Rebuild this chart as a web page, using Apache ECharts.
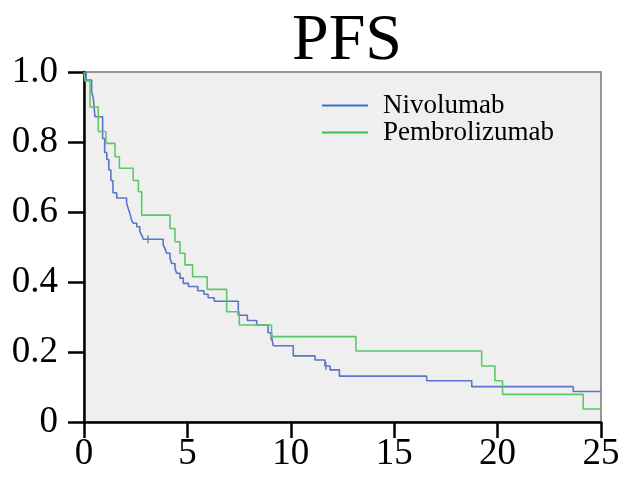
<!DOCTYPE html>
<html>
<head>
<meta charset="utf-8">
<script src="https://cdn.jsdelivr.net/npm/echarts@6/dist/echarts.min.js"></script>
<style>
  html, body { margin: 0; padding: 0; background: #fff; }
  #chart { width: 630px; height: 477px; }
</style>
</head>
<body>
<div id="chart"></div>
<script>
// Kaplan-Meier steps: [time, survival after that time]
let nivoTimes = [0, 0.1, 0.37, 0.45, 0.53, 0.9, 1.0, 1.1, 1.2, 1.3, 1.4, 1.58, 2.06, 2.14, 2.22, 2.3, 2.38, 2.55, 2.7, 2.79, 2.87,
  3.83, 3.91, 4.0, 4.16, 4.24, 4.4, 4.48, 4.64, 4.8, 5.05, 5.5, 5.8, 6.0, 6.3, 7.46, 7.9, 8.35, 8.9, 9.07, 9.15,
  10.12, 11.17, 11.65, 11.9, 12.35, 16.57, 18.75, 23.66, 25]
let nivoSurv = [1.0, 0.977, 0.944, 0.925, 0.872, 0.81, 0.77, 0.75, 0.72, 0.69, 0.655, 0.64, 0.625, 0.61, 0.596, 0.577, 0.568, 0.558, 0.544, 0.534, 0.522,
  0.506, 0.496, 0.482, 0.468, 0.453, 0.439, 0.425, 0.411, 0.396, 0.387, 0.375, 0.365, 0.355, 0.345, 0.305, 0.29, 0.277, 0.255, 0.244, 0.218,
  0.189, 0.177, 0.16, 0.149, 0.131, 0.118, 0.101, 0.087, 0.087]
let pembroTimes = [0, 0.05, 0.29, 0.69, 1.06, 1.5, 1.71, 2.38, 2.63, 2.79, 4.16, 4.4, 4.64, 4.88, 5.25, 5.96, 6.9, 7.51, 9.07,
  13.15, 19.23, 19.87, 20.24, 24.14, 25]
let pembroSurv = [1.0, 0.974, 0.90, 0.83, 0.796, 0.758, 0.725, 0.69, 0.658, 0.591, 0.553, 0.515, 0.482, 0.449, 0.415, 0.379, 0.315, 0.277, 0.244,
  0.203, 0.16, 0.118, 0.079, 0.037, 0.037]
// censor marks
let censorTimes = [3.1, 9.05, 11.7]
let censorSurv = [0.522, 0.244, 0.16]

let xTicks = ['0', '5', '10', '15', '20', '25']
let yTicks = ['0', '0.2', '0.4', '0.6', '0.8', '1.0']

let names = ['Nivolumab', 'Pembrolizumab']
let colors = ['#5b74c9', '#5cc866']
let legendColors = ['#3a6fd0', '#3cbf55']
let serif = 'Liberation Serif'

function zip(a, b) {
  return a.map(function (t, i) { return [t, b[i]] })
}

let chart = echarts.init(document.getElementById('chart'))
let option = {
  animation: false,
  title: {
    text: 'PFS',
    left: 342,
    textAlign: 'center',
    top: 4,
    textStyle: { fontFamily: serif, fontSize: 66, fontWeight: 'normal', color: '#000' }
  },
  legend: {
    data: [
      { name: names[0], itemStyle: { color: legendColors[0] } },
      { name: names[1], itemStyle: { color: legendColors[1] } }
    ],
    orient: 'vertical',
    left: 317,
    top: 87,
    itemWidth: 46,
    itemHeight: 2,
    itemGap: 0,
    icon: 'rect',
    textStyle: { fontFamily: serif, fontSize: 27, color: '#000', padding: [0, 0, 0, 10] }
  },
  grid: {
    left: 84, right: 29, top: 72, bottom: 55,
    show: true,
    backgroundColor: '#efefef',
    borderColor: '#777',
    borderWidth: 1.5
  },
  xAxis: {
    type: 'value',
    min: 0, max: 25, interval: 5,
    axisLine: { lineStyle: { color: '#000', width: 2.5 } },
    axisTick: { show: true, length: 16, lineStyle: { color: '#000', width: 2.5 } },
    axisLabel: {
      margin: 14, fontFamily: serif, fontSize: 37, color: '#000',
      formatter: function (v) { return xTicks[v / 5] }
    },
    splitLine: { show: false }
  },
  yAxis: {
    type: 'value',
    min: 0, max: 1, interval: 0.2,
    axisLine: { show: true, lineStyle: { color: '#000', width: 2.5 } },
    axisTick: { show: true, length: 16, lineStyle: { color: '#000', width: 2.5 } },
    axisLabel: {
      margin: 26, fontFamily: serif, fontSize: 37, color: '#000',
      formatter: function (v) { return yTicks[Math.round(v * 5)] }
    },
    splitLine: { show: false }
  },
  series: [
    {
      name: names[0], type: 'line', step: 'end', showSymbol: false,
      data: zip(nivoTimes, nivoSurv),
      lineStyle: { color: colors[0], width: 1.6 }, itemStyle: { color: colors[0] }
    },
    {
      name: names[1], type: 'line', step: 'end', showSymbol: false,
      data: zip(pembroTimes, pembroSurv),
      lineStyle: { color: colors[1], width: 1.6 }, itemStyle: { color: colors[1] }
    },
    {
      name: 'censor', type: 'scatter', symbol: 'rect', symbolSize: [1.6, 8],
      data: zip(censorTimes, censorSurv),
      itemStyle: { color: colors[0] }
    }
  ]
}
chart.setOption(option)
</script>
</body>
</html>
